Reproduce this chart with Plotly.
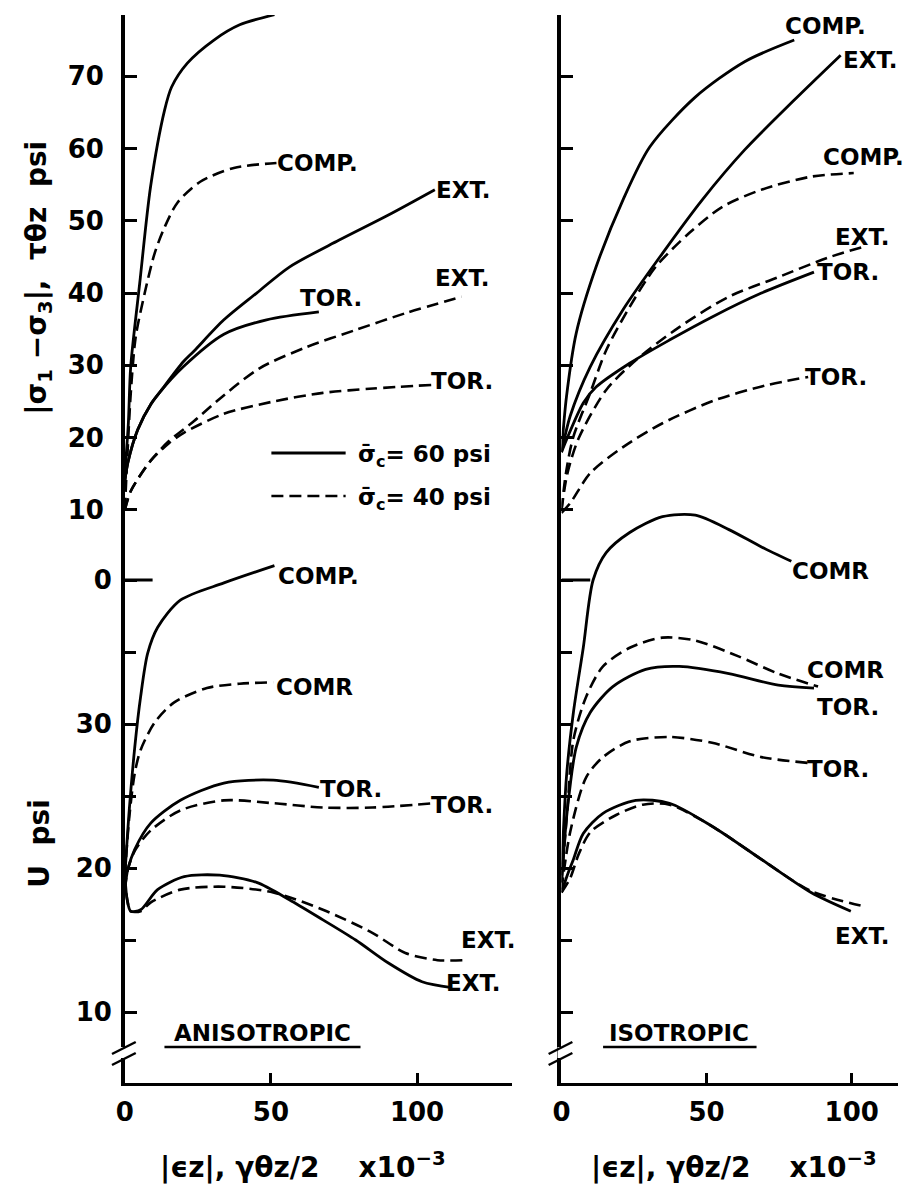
import plotly.graph_objects as go

W, H = 912, 1203

# ---------------- data (strain x10^-3 ; stress / U in psi) ----------------
# Left panel (anisotropic) - upper: |s1-s3|, tau
LA_COMP60_x = [0, 1.2, 2.0, 5.1, 8.8, 13.6, 16, 21.4, 30.5, 39.3, 51.2]
LA_COMP60_y = [15, 22, 29.8, 41.4, 54.7, 65.3, 68.5, 71.8, 75.0, 77.1, 78.5]
LA_EXT60_x = [0, 1, 4.4, 9, 12, 20, 23.7, 33.9, 45.1, 56.3, 73.2, 90.2, 106.1]
LA_EXT60_y = [14, 16.5, 21.1, 24.7, 26.3, 30.5, 32.0, 36.3, 40.0, 43.6, 47.3, 50.8, 54.3]
LA_TOR60_x = [0, 1, 4.4, 9, 12, 20, 33.9, 48.5, 66.4]
LA_TOR60_y = [14, 16.5, 21.1, 24.7, 26.3, 29.8, 34.3, 36.3, 37.4]
LA_COMP40_x = [0, 0.8, 2, 3.7, 6.8, 10.2, 13.6, 18, 25.8, 37.3, 51.9]
LA_COMP40_y = [10, 17, 26, 33.9, 40, 45.5, 49.1, 52.5, 55.4, 57.3, 58.0]
LA_EXT40_x = [0, 2, 8.8, 15, 23.7, 32.5, 46.1, 62, 79, 95.9, 115.3]
LA_EXT40_y = [10, 12.6, 16.8, 19.5, 22.3, 25.4, 29.6, 32.5, 34.9, 37.2, 39.5]
LA_TOR40_x = [0, 2, 8.8, 15, 20.3, 33.9, 50.8, 67.8, 85, 105]
LA_TOR40_y = [10, 12.6, 16.8, 19.2, 20.7, 23.3, 25.0, 26.2, 26.8, 27.3]
# Left panel - lower: U
LA_U_COMP60_x = [0, 1.5, 3.4, 5.4, 7.8, 11.2, 19.0, 33.9, 51.2]
LA_U_COMP60_y = [19.5, 24, 28.4, 31.9, 34.9, 36.7, 38.6, 39.8, 41.0]
LA_U_COMP40_x = [0, 1.5, 3.4, 5.4, 10.2, 16.9, 28.1, 39.3, 50.8]
LA_U_COMP40_y = [19.5, 23.5, 26.6, 28.2, 30.1, 31.5, 32.5, 32.8, 32.9]
LA_U_TOR60_x = [0, 1, 3.4, 8.8, 19, 33.9, 50.8, 66.4]
LA_U_TOR60_y = [18.5, 19.9, 21.3, 23.1, 24.7, 25.9, 26.1, 25.6]
LA_U_TOR40_x = [0, 1, 3.4, 8.8, 19, 33.9, 50.8, 67.8, 84.7, 106]
LA_U_TOR40_y = [18.5, 19.9, 21.2, 22.6, 24.0, 24.7, 24.5, 24.2, 24.2, 24.5]
LA_U_EXT60_x = [0, 0.8, 2, 5.4, 11.2, 20.3, 32.5, 45.1, 56.3, 67.8, 79, 90.2, 101.7, 111.9]
LA_U_EXT60_y = [19.5, 17.8, 17.0, 17.1, 18.5, 19.4, 19.5, 19.0, 17.8, 16.4, 15.0, 13.4, 12.1, 11.7]
LA_U_EXT40_x = [0, 0.8, 2, 5.4, 8.8, 19, 33.9, 50.8, 67.8, 84.7, 96, 107, 116]
LA_U_EXT40_y = [19.5, 17.8, 17.0, 17.0, 17.6, 18.5, 18.7, 18.3, 17.1, 15.5, 14.1, 13.6, 13.6]

# Right panel (isotropic) - upper
RI_COMP60_x = [0, 1.7, 5.1, 11.9, 21.2, 30.4, 46.1, 63.1, 80.2]
RI_COMP60_y = [18, 25.6, 34.5, 43.6, 52.9, 60.2, 67.1, 72.0, 75.0]
RI_EXT60_x = [0, 3, 9.9, 21.2, 34.8, 48.5, 63.1, 80.2, 96.2]
RI_EXT60_y = [18, 23, 29.8, 37.7, 45.5, 52.9, 59.8, 66.7, 72.9]
RI_TOR60_x = [0, 1.7, 7.5, 11.9, 23.5, 37.2, 51.9, 68.9, 87]
RI_TOR60_y = [18, 19.7, 24.8, 27.0, 30.3, 33.5, 36.7, 40.0, 42.9]
RI_COMP40_x = [0, 1.5, 4, 9.9, 15.4, 23.5, 32.4, 44, 55.3, 68.9, 86, 100.7]
RI_COMP40_y = [10, 15, 20, 26.2, 32.1, 38.1, 43.6, 48.3, 51.9, 54.3, 56.1, 56.6]
RI_EXT40_x = [0, 2, 6, 15.4, 25.6, 40.6, 57.7, 74.7, 91.8, 104]
RI_EXT40_y = [10, 15, 20, 26.6, 30.7, 35.3, 39.5, 42.2, 44.9, 46.4]
RI_TOR40_x = [0, 3.1, 9.9, 21.2, 34.8, 53, 70, 85]
RI_TOR40_y = [9.6, 11, 15.1, 18.7, 22, 25.2, 27.2, 28.4]
# Right panel - lower: U
RI_U_COMP60_x = [0, 1.7, 4.1, 7.5, 10.9, 15.4, 23.5, 34.8, 46.1, 57.7, 68.9, 79.2]
RI_U_COMP60_y = [19.5, 26.3, 30.8, 35.3, 40.0, 41.9, 43.3, 44.4, 44.5, 43.5, 42.3, 41.3]
RI_U_COMP40_x = [0, 2, 4.1, 8.5, 14.3, 23.5, 34.8, 46.1, 61, 74.7, 88.4]
RI_U_COMP40_y = [19, 24, 28.9, 31.9, 34.0, 35.3, 36.0, 35.8, 34.7, 33.5, 32.6]
RI_U_TOR60_x = [0, 2, 5.1, 9.9, 17.7, 29, 40.6, 57.7, 74.7, 87]
RI_U_TOR60_y = [19, 24, 28.4, 30.8, 32.6, 33.8, 34.0, 33.5, 32.7, 32.5]
RI_U_TOR40_x = [0, 3, 8.5, 14.3, 23.5, 37.2, 51.9, 68.9, 85]
RI_U_TOR40_y = [18.5, 22.5, 26.3, 27.7, 28.8, 29.1, 28.7, 27.7, 27.3]
RI_U_EXT60_x = [0, 2, 4.1, 7.5, 14.3, 25.6, 37.2, 51.9, 68.9, 86, 99.7]
RI_U_EXT60_y = [18.3, 19.5, 20.6, 22.4, 23.8, 24.7, 24.5, 22.9, 20.6, 18.3, 17.0]
RI_U_EXT40_x = [0, 3, 6, 10, 19, 28, 37.2, 51.9, 68.9, 86, 105]
RI_U_EXT40_y = [18.3, 19.3, 21, 22.5, 23.7, 24.4, 24.4, 22.9, 20.6, 18.4, 17.3]

STRESS_TICKS = [10, 20, 30, 40, 50, 60, 70]
U_TICKS = [10, 20, 30, 40]
U_TICKTEXT = ["10", "20", "30", "0"]
U_MINOR = [15, 25, 35]
X_TICKS = [0, 50, 100]

FONT = "DejaVu Sans"
DASH = "12px,6px"
SOLID = dict(color="black", width=2.8, shape="spline", smoothing=0.8)
DASHED = dict(color="black", width=2.6, dash=DASH, shape="spline", smoothing=0.8)

fig = go.Figure()

def add(x, y, xa, ya, style):
    fig.add_trace(go.Scatter(x=x, y=y, xaxis=xa, yaxis=ya, mode="lines",
                             line=style, hoverinfo="skip"))

# left upper
add(LA_COMP60_x, LA_COMP60_y, "x", "y", SOLID)
add(LA_EXT60_x, LA_EXT60_y, "x", "y", SOLID)
add(LA_TOR60_x, LA_TOR60_y, "x", "y", SOLID)
add(LA_COMP40_x, LA_COMP40_y, "x", "y", DASHED)
add(LA_EXT40_x, LA_EXT40_y, "x", "y", DASHED)
add(LA_TOR40_x, LA_TOR40_y, "x", "y", DASHED)
# left lower
add(LA_U_COMP60_x, LA_U_COMP60_y, "x", "y2", SOLID)
add(LA_U_COMP40_x, LA_U_COMP40_y, "x", "y2", DASHED)
add(LA_U_TOR60_x, LA_U_TOR60_y, "x", "y2", SOLID)
add(LA_U_TOR40_x, LA_U_TOR40_y, "x", "y2", DASHED)
add(LA_U_EXT60_x, LA_U_EXT60_y, "x", "y2", SOLID)
add(LA_U_EXT40_x, LA_U_EXT40_y, "x", "y2", DASHED)
# right upper
add(RI_COMP60_x, RI_COMP60_y, "x2", "y3", SOLID)
add(RI_EXT60_x, RI_EXT60_y, "x2", "y3", SOLID)
add(RI_TOR60_x, RI_TOR60_y, "x2", "y3", SOLID)
add(RI_COMP40_x, RI_COMP40_y, "x2", "y3", DASHED)
add(RI_EXT40_x, RI_EXT40_y, "x2", "y3", DASHED)
add(RI_TOR40_x, RI_TOR40_y, "x2", "y3", DASHED)
# right lower
add(RI_U_COMP60_x, RI_U_COMP60_y, "x2", "y4", SOLID)
add(RI_U_COMP40_x, RI_U_COMP40_y, "x2", "y4", DASHED)
add(RI_U_TOR60_x, RI_U_TOR60_y, "x2", "y4", SOLID)
add(RI_U_TOR40_x, RI_U_TOR40_y, "x2", "y4", DASHED)
add(RI_U_EXT60_x, RI_U_EXT60_y, "x2", "y4", SOLID)
add(RI_U_EXT40_x, RI_U_EXT40_y, "x2", "y4", DASHED)

ydom = [1 - 1083 / H, 1 - 15 / H]
tickfont = dict(family=FONT, size=26, color="black", weight="bold")

common_x = dict(showline=True, linewidth=3, linecolor="black", ticks="inside",
                tickvals=X_TICKS, ticktext=[str(v) for v in X_TICKS], ticklen=10, tickwidth=3,
                tickcolor="black", showgrid=False, zeroline=False, tickfont=tickfont,
                ticklabelstandoff=4)
stress_y = dict(domain=ydom, range=[-69.25, 78.46], showline=True, linewidth=3.5,
                linecolor="black", ticks="inside", tickvals=STRESS_TICKS, ticklen=12,
                tickwidth=3, tickcolor="black", showgrid=False, zeroline=False,
                tickfont=tickfont, ticklabelstandoff=12)
u_y = dict(range=[5.07, 79.24], showline=False, ticks="inside", tickvals=U_TICKS,
           ticktext=U_TICKTEXT, ticklen=12, tickwidth=3, tickcolor="black",
           showgrid=False, zeroline=False, tickfont=tickfont, ticklabelstandoff=12,
           minor=dict(tickvals=U_MINOR, ticks="inside", ticklen=11, tickwidth=3,
                      tickcolor="black", showgrid=False))

fig.update_layout(
    width=W, height=H, margin=dict(l=0, r=0, t=0, b=0),
    paper_bgcolor="white", plot_bgcolor="rgba(0,0,0,0)", showlegend=False,
    font=dict(family=FONT, color="black", weight="bold"),
    xaxis=dict(domain=[117 / W, 508 / W], range=[0, 132.5], anchor="y", **common_x),
    xaxis2=dict(domain=[558 / W, 898 / W], range=[0, 116], anchor="y3", **common_x),
    yaxis=dict(anchor="x", **stress_y),
    yaxis2=dict(anchor="x", overlaying="y", side="left", **u_y),
    yaxis3=dict(anchor="x2", **{**stress_y, "showticklabels": False}),
    yaxis4=dict(anchor="x2", overlaying="y3", side="left", **{**u_y, "showticklabels": False}),
)

# long tick at the top of U axis
fig.add_shape(type="line", xref="x", yref="y2", x0=0, x1=9.5, y0=40, y1=40,
              line=dict(color="black", width=3))
fig.add_shape(type="line", xref="x2", yref="y4", x0=0, x1=9.9, y0=40, y1=40,
              line=dict(color="black", width=3))

def px(x):
    return x / W

def py(y):
    return 1 - y / H

# axis break marks
for ax in (117, 558):
    fig.add_shape(type="rect", xref="paper", yref="paper", x0=px(ax - 4), x1=px(ax + 4),
                  y0=py(1058), y1=py(1047), fillcolor="white", line=dict(width=0))
    for yy in (1047, 1058):
        fig.add_shape(type="line", xref="paper", yref="paper",
                      x0=px(ax - 13), y0=py(yy + 7), x1=px(ax + 11), y1=py(yy - 5),
                      line=dict(color="black", width=2.5))

# legend
fig.add_shape(type="line", xref="paper", yref="paper", x0=px(265), x1=px(340),
              y0=py(453), y1=py(453), line=dict(color="black", width=2.8))
fig.add_shape(type="line", xref="paper", yref="paper", x0=px(265), x1=px(340),
              y0=py(496), y1=py(496), line=dict(color="black", width=2.6, dash=DASH))
lab = dict(family=FONT, size=23, color="black", weight="bold")
fig.add_annotation(x=px(350), y=py(456), xref="paper", yref="paper", xanchor="left",
                   yanchor="middle", showarrow=False, font=lab,
                   text="σ\u0304<sub>c</sub>= 60 psi")
fig.add_annotation(x=px(350), y=py(499), xref="paper", yref="paper", xanchor="left",
                   yanchor="middle", showarrow=False, font=lab,
                   text="σ\u0304<sub>c</sub>= 40 psi")

# curve labels (xref, yref, x, y, text)
CURVE_LABELS = [
    ("x", "y", 50.8, 78.5, "COMP."), ("x", "y", 51.4, 58.0, "COMP."),
    ("x", "y", 105.7, 54.3, "EXT."), ("x", "y", 59.2, 39.3, "TOR."),
    ("x", "y", 105.3, 42.1, "EXT."), ("x", "y", 104.0, 27.8, "TOR."),
    ("x2", "y3", 76.4, 76.9, "COMP."), ("x2", "y3", 96.2, 72.2, "EXT."),
    ("x2", "y3", 89.4, 58.8, "COMP."), ("x2", "y3", 93.4, 47.8, "EXT."),
    ("x2", "y3", 87.3, 42.9, "TOR."), ("x2", "y3", 83.2, 28.4, "TOR."),
    ("x", "y2", 51.8, 40.3, "COMP."), ("x", "y2", 51.1, 32.6, "COMR"),
    ("x", "y2", 66.0, 25.5, "TOR."), ("x", "y2", 104.0, 24.4, "TOR."),
    ("x", "y2", 114.5, 15.0, "EXT."), ("x", "y2", 109.4, 12.0, "EXT."),
    ("x2", "y4", 78.8, 40.6, "COMR"), ("x2", "y4", 83.9, 33.75, "COMR"),
    ("x2", "y4", 87.3, 31.2, "TOR."), ("x2", "y4", 83.9, 26.9, "TOR."),
    ("x2", "y4", 93.4, 15.3, "EXT."),
]
for xr, yr, xv, yv, t in CURVE_LABELS:
    fig.add_annotation(x=xv, y=yv, xref=xr, yref=yr, xanchor="left", yanchor="middle",
                       showarrow=False, text=t, font=lab)

# panel labels with underline
fig.add_annotation(x=px(256), y=py(1033), xref="paper", yref="paper", showarrow=False,
                   xanchor="center", yanchor="middle", text="ANISOTROPIC", font=lab)
fig.add_shape(type="line", xref="paper", yref="paper", x0=px(157), x1=px(355),
              y0=py(1047), y1=py(1047), line=dict(color="black", width=2.5))
fig.add_annotation(x=px(677), y=py(1033), xref="paper", yref="paper", showarrow=False,
                   xanchor="center", yanchor="middle", text="ISOTROPIC", font=lab)
fig.add_shape(type="line", xref="paper", yref="paper", x0=px(600), x1=px(755),
              y0=py(1047), y1=py(1047), line=dict(color="black", width=2.5))

# axis titles
tfont = dict(family=FONT, size=28, color="black", weight="bold")
fig.add_annotation(x=px(30), y=py(278), xref="paper", yref="paper", showarrow=False,
                   xanchor="center", yanchor="middle", textangle=-90, font=tfont,
                   text="|σ<sub>1</sub>\u00a0\u2212σ<sub>3</sub>|,\u00a0\u00a0τθz\u00a0\u00a0psi")
fig.add_annotation(x=px(30), y=py(843), xref="paper", yref="paper", showarrow=False,
                   xanchor="center", yanchor="middle", textangle=-90, font=tfont,
                   text="U\u00a0\u00a0psi")
XT = "|ϵz|,\u00a0γθz/2\u00a0\u00a0\u00a0\u00a0x10<sup>\u22123</sup>"
fig.add_annotation(x=px(297), y=py(1165), xref="paper", yref="paper", showarrow=False,
                   xanchor="center", yanchor="middle", font=tfont, text=XT)
fig.add_annotation(x=px(732), y=py(1165), xref="paper", yref="paper", showarrow=False,
                   xanchor="center", yanchor="middle", font=tfont, text=XT)

fig.write_html("out.html")
